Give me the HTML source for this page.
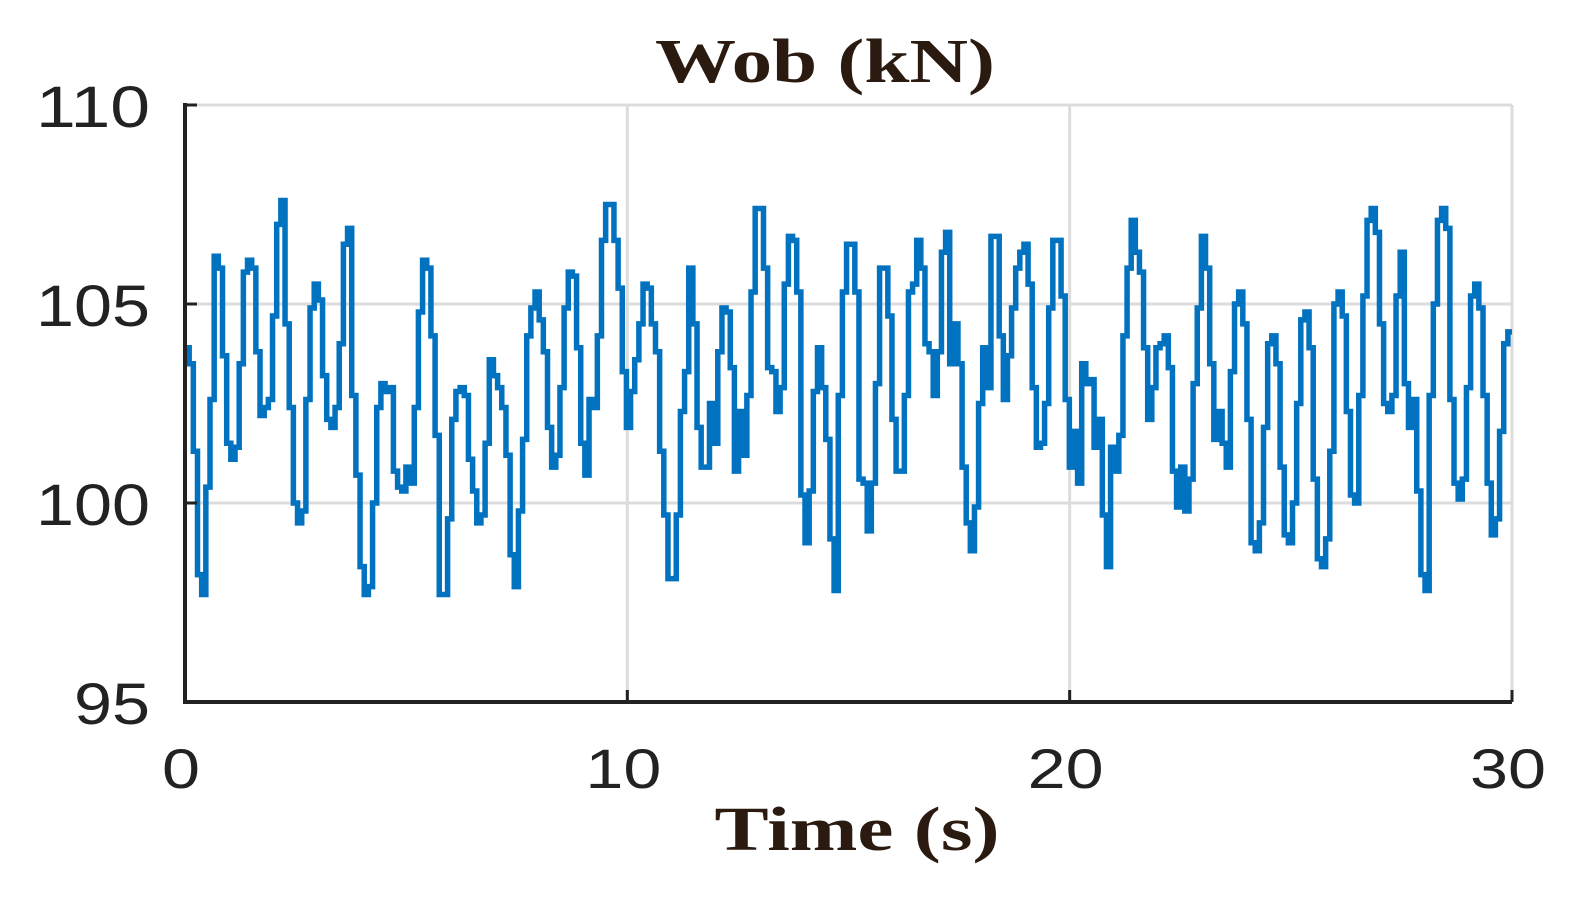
<!DOCTYPE html>
<html><head><meta charset="utf-8"><style>
html,body{margin:0;padding:0;background:#fff;}
svg{display:block;}
</style></head><body>
<svg id="chart" width="1595" height="897" viewBox="0 0 1595 897" xmlns="http://www.w3.org/2000/svg">
<g id="grid"></g>
<g id="series"></g>
<g id="axes"></g>
<text x="825" y="82" text-anchor="middle" textLength="340" lengthAdjust="spacingAndGlyphs" font-family="Liberation Serif, serif" font-size="62" font-weight="bold" fill="#2a1a10">Wob (kN)</text>
<text x="857" y="850" text-anchor="middle" textLength="285" lengthAdjust="spacingAndGlyphs" font-family="Liberation Serif, serif" font-size="62" font-weight="bold" fill="#2a1a10">Time (s)</text>
</svg>
<script>
const xTicks=[0,10,20,30];
const yTicks=[95,100,105,110];
const xTickLabels=["0","10","20","30"];
const yTickLabels=["95","100","105","110"];
const segStart=[0,7.35,15.05,22.51];
const segEnd=[7.35,15.05,22.51,30];
const seg1=[103.9,103.5,101.3,98.2,97.7,100.4,102.6,106.2,105.9,103.7,101.5,101.1,101.4,103.5,105.8,106.1,105.9,103.8,102.2,102.4,102.6,104.7,107.0,107.6,104.5,102.4,100.0,99.5,99.8,102.6,104.9,105.5,105.1,103.2,102.1,101.9,102.4,104.0,106.5,106.9,102.7,100.7,98.4,97.7,97.9,100.0,102.4,103.0,102.8,102.9,100.8,100.4,100.3,100.9,100.5,102.4,104.8,106.1,105.9,104.2,101.7,97.7,97.7,99.6,102.1,102.8,102.9,102.7,101.1,100.3,99.5,99.7,101.5,103.6,103.2,102.9,102.4,101.2];
const seg2=[98.7,97.9,99.8,101.6,104.2,104.9,105.3,104.6,103.8,101.9,100.9,101.2,102.9,104.9,105.8,105.7,103.9,101.5,100.7,102.6,102.4,104.2,106.6,107.5,107.5,106.6,105.4,103.3,101.9,102.8,103.6,104.5,105.5,105.4,104.5,103.8,101.3,99.7,98.1,98.1,99.7,102.3,103.3,105.9,104.5,101.9,100.9,100.9,102.5,101.5,103.8,104.9,104.8,103.4,100.8,102.3,101.2,102.7,105.3,107.4,107.4,105.9,103.4,103.3,102.3,102.9,105.5,106.7,106.6,105.3,100.2,99.0,100.3,102.8,103.9,102.9,101.6,99.1,97.8,102.7,105.3,106.5];
const seg3=[106.5,105.3,100.6,100.5,99.3,100.5,103.0,105.9,105.9,104.7,102.1,100.8,100.8,102.7,105.3,105.5,106.6,105.9,104.0,103.8,102.7,103.8,106.3,106.8,103.5,104.5,103.5,100.9,99.5,98.8,99.9,102.5,103.9,102.9,106.7,106.7,104.2,102.6,103.7,104.9,105.9,106.3,106.5,105.5,102.9,101.4,101.5,102.5,104.9,106.6,106.6,105.2,102.6,100.9,101.8,100.5,103.5,103.0,103.1,101.4,102.1,99.7,98.4,101.4,100.8,101.7,104.2,105.9,107.1,106.3,105.8,103.9,102.1,102.9,103.9,104.0,104.2,103.4,100.8,99.9];
const seg4=[100.9,99.8,100.6,103.0,104.9,106.7,105.9,103.5,101.6,102.3,101.5,100.9,103.3,105.0,105.3,104.5,102.1,99.0,98.8,99.5,101.9,104.0,104.2,103.5,100.9,99.2,99.0,100.0,102.5,104.6,104.8,103.9,100.6,98.6,98.4,99.1,101.3,105.0,105.3,104.7,102.3,100.2,100.0,102.7,105.2,107.1,107.4,106.8,104.5,102.5,102.3,102.7,105.2,106.3,103.0,101.9,102.6,100.3,98.2,97.8,102.7,105.0,107.1,107.4,106.9,102.6,100.5,100.1,100.6,102.9,105.2,105.5,104.9,102.7,100.5,99.2,99.6,101.8,104.0,104.3];
const segments=[seg1,seg2,seg3,seg4];

const L=185,R=1512,T=105,B=702;
const xS=t=>L+(t-0)/(30-0)*(R-L);
const yS=v=>B-(v-95)/(110-95)*(B-T);
const NS="http://www.w3.org/2000/svg";
function mk(tag,attrs,parent){const e=document.createElementNS(NS,tag);for(const k in attrs)e.setAttribute(k,attrs[k]);parent.appendChild(e);return e;}
const grid=document.getElementById('grid'),axes=document.getElementById('axes'),series=document.getElementById('series');
xTicks.forEach((t,i)=>{
  const g=mk('line',{x1:xS(t),x2:xS(t),y1:T,y2:B,stroke:'#dcdcdc','stroke-width':3},grid);
  
  
  const tk=mk('line',{x1:xS(t),x2:xS(t),y1:B,y2:B-12,stroke:'#222','stroke-width':3},axes);
  
  
  const s=xTickLabels[i];
  const lb=mk('text',{x:xS(t)-4,y:788,'text-anchor':'middle','font-family':'Liberation Sans, sans-serif','font-size':56,fill:'#222',textLength:s.length*38,lengthAdjust:'spacingAndGlyphs'},axes);
  lb.textContent=s;
  
  
});
yTicks.forEach((v,i)=>{
  const g=mk('line',{x1:L,x2:R,y1:yS(v),y2:yS(v),stroke:'#dcdcdc','stroke-width':3},grid);
  
  
  const tk=mk('line',{x1:L,x2:L+12,y1:yS(v),y2:yS(v),stroke:'#222','stroke-width':3},axes);
  
  
  const s=yTickLabels[i];
  const lb=mk('text',{x:150,y:yS(v)+22,'text-anchor':'end','font-family':'Liberation Sans, sans-serif','font-size':58,fill:'#222',textLength:s.length*38,lengthAdjust:'spacingAndGlyphs'},axes);
  lb.textContent=s;
  
  
});
const xa=mk('line',{x1:L,x2:R,y1:B,y2:B,stroke:'#222','stroke-width':4},axes);


const ya=mk('line',{x1:L,x2:L,y1:T-2,y2:B+2,stroke:'#222','stroke-width':4},axes);


let pts=[];
segments.forEach((vals,s)=>{
  const dt=(segEnd[s]-segStart[s])/vals.length;
  vals.forEach((v,i)=>{
    const t0=segStart[s]+i*dt,t1=t0+dt;
    pts.push(xS(t0)+','+yS(v));pts.push(xS(t1)+','+yS(v));
  });
});
const line=mk('polyline',{points:pts.join(' '),fill:'none',stroke:'#0072c0','stroke-width':5.5,'stroke-linejoin':'miter'},series);


</script>
</body></html>
